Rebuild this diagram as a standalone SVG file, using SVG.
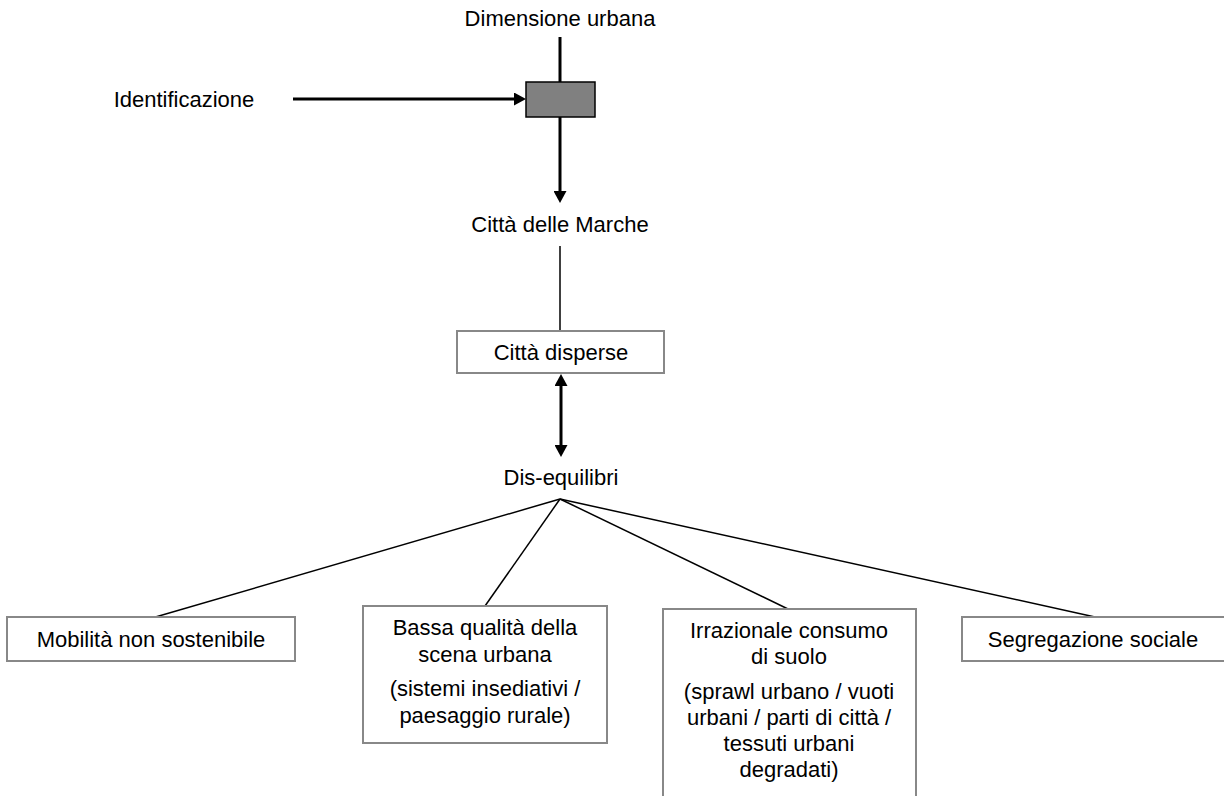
<svg xmlns="http://www.w3.org/2000/svg" width="1224" height="796" viewBox="0 0 1224 796">
<style>
text{font-family:"Liberation Sans",Arial,sans-serif;font-size:22px;fill:#000;text-anchor:middle}
.box{fill:#fff;stroke:#888;stroke-width:2}
.thick{stroke:#000;stroke-width:3;fill:none}
.thin{stroke:#000;stroke-width:1.5;fill:none}
</style>
<defs>
<marker id="ah" viewBox="0 0 12 13" markerWidth="12" markerHeight="13" refX="2" refY="6.5" markerUnits="userSpaceOnUse" orient="auto-start-reverse">
<path d="M0,0 L12,6.5 L0,13 z" fill="#000"/>
</marker>
</defs>
<rect width="1224" height="796" fill="#fff"/>
<g id="connectors">
<line class="thick" x1="560" y1="37" x2="560" y2="82"/>
<line class="thick" x1="293" y1="99" x2="516" y2="99" marker-end="url(#ah)"/>
<line class="thick" x1="560" y1="117" x2="560" y2="193" marker-end="url(#ah)"/>
<line class="thin" x1="560" y1="246" x2="560" y2="331"/>
<line class="thick" x1="561" y1="384" x2="561" y2="447" marker-start="url(#ah)" marker-end="url(#ah)"/>
<line class="thin" x1="560" y1="499" x2="152" y2="618"/>
<line class="thin" x1="560" y1="499" x2="485" y2="606"/>
<line class="thin" x1="560" y1="499" x2="788" y2="609"/>
<line class="thin" x1="560" y1="499" x2="1095" y2="617"/>
</g>
<g id="dimensione"><text x="560" y="26">Dimensione urbana</text></g>
<g id="identificazione"><text x="184" y="107">Identificazione</text></g>
<g id="processo"><rect x="526" y="82" width="69" height="35" fill="#808080" stroke="#000" stroke-width="1.5"/></g>
<g id="citta-marche"><text x="560" y="232">Città delle Marche</text></g>
<g id="citta-disperse"><rect class="box" x="457" y="331" width="207" height="42"/><text x="561" y="360">Città disperse</text></g>
<g id="disequilibri"><text x="561" y="485">Dis-equilibri</text></g>
<g id="mobilita"><rect class="box" x="7" y="617" width="288" height="44"/><text x="151" y="647">Mobilità non sostenibile</text></g>
<g id="bassa"><rect class="box" x="363" y="606" width="244" height="137"/>
<text x="485" y="635">Bassa qualità della</text>
<text x="485" y="662">scena urbana</text>
<text x="485" y="696">(sistemi insediativi /</text>
<text x="485" y="723">paesaggio rurale)</text></g>
<g id="irrazionale"><rect class="box" x="663" y="609" width="253" height="200"/>
<text x="789" y="638">Irrazionale consumo</text>
<text x="789" y="664">di suolo</text>
<text x="789" y="699">(sprawl urbano / vuoti</text>
<text x="789" y="725">urbani / parti di città /</text>
<text x="789" y="751">tessuti urbani</text>
<text x="789" y="777">degradati)</text></g>
<g id="segregazione"><rect class="box" x="962" y="617" width="266" height="44"/><text x="1093" y="647">Segregazione sociale</text></g>
</svg>
